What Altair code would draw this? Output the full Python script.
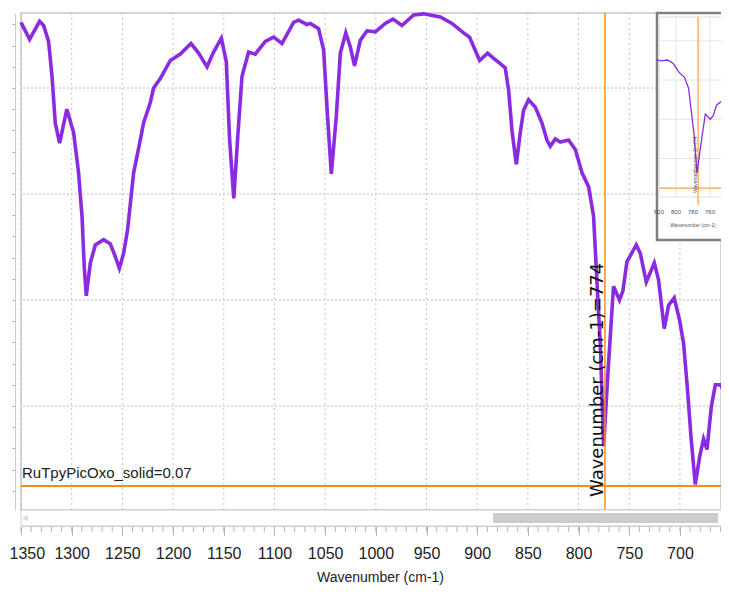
import altair as alt
import pandas as pd

# ---------------- data ----------------
wavenumber = [1350, 1341.5, 1331.7, 1327.7, 1322.8, 1319.4, 1316.2, 1311.9, 1304.8, 1298.1,
              1293.2, 1289.8, 1287.6, 1285.6, 1281.6, 1276.7, 1268.5, 1261.9, 1257, 1253,
              1248.8, 1244.9, 1238.9, 1232.3, 1229.1, 1222.5, 1219.2, 1212.6, 1202.7, 1192.8,
              1182.3, 1174.8, 1166.5, 1160, 1152.4, 1147.5, 1144.2, 1140.1, 1136.4, 1132,
              1125.5, 1118.9, 1109, 1100.8, 1092.6, 1081.1, 1076.2, 1067.9, 1064.6, 1056.5,
              1051.5, 1047.6, 1043.9, 1039, 1035, 1029.6, 1025.2, 1021, 1015.3, 1008.7,
              1000.5, 990.7, 983.1, 974.2, 962.7, 952.9, 936.4, 924.9, 913.4, 907.5,
              897.6, 889.7, 883.8, 877.2, 872.3, 869, 865.7, 861.4, 857.5, 854.2,
              849.3, 842.7, 836.1, 831.2, 827.9, 823, 818, 809.9, 803.2, 796.6,
              790.1, 785.2, 781.8, 778.6, 775.3, 770.4, 765.5, 759.6, 756.2, 752.3,
              743.1, 739.1, 733.2, 725.3, 721.1, 715.5, 711.2, 705.6, 700.4, 696.4,
              692.5, 689.1, 684.9, 680.6, 676.7, 673.3, 669.1, 665.1, 660.2, 657, 651.4]
signal = [0.512, 0.496, 0.513, 0.509, 0.494, 0.461, 0.417, 0.398, 0.430, 0.408,
          0.370, 0.329, 0.281, 0.254, 0.285, 0.302, 0.307, 0.303, 0.291, 0.280,
          0.294, 0.316, 0.370, 0.401, 0.417, 0.436, 0.450, 0.459, 0.476, 0.482,
          0.492, 0.483, 0.470, 0.484, 0.497, 0.475, 0.401, 0.346, 0.401, 0.461,
          0.484, 0.482, 0.494, 0.498, 0.492, 0.512, 0.514, 0.510, 0.511, 0.506,
          0.486, 0.423, 0.369, 0.423, 0.483, 0.502, 0.489, 0.471, 0.495, 0.504,
          0.503, 0.511, 0.515, 0.509, 0.519, 0.520, 0.517, 0.511, 0.502, 0.498,
          0.476, 0.483, 0.478, 0.473, 0.469, 0.448, 0.410, 0.378, 0.408, 0.429,
          0.439, 0.432, 0.417, 0.401, 0.395, 0.402, 0.399, 0.401, 0.392, 0.370,
          0.357, 0.329, 0.266, 0.209, 0.112, 0.191, 0.263, 0.250, 0.259, 0.286,
          0.302, 0.294, 0.267, 0.285, 0.269, 0.223, 0.245, 0.252, 0.231, 0.209,
          0.165, 0.121, 0.076, 0.102, 0.119, 0.109, 0.149, 0.170, 0.170, 0.165, 0.171]

x_tick_labels = [1350, 1300, 1250, 1200, 1150, 1100, 1050, 1000, 950, 900, 850, 800, 750, 700]
x_minor_ticks = list(range(1350, 655, -10))
y_ticks = [0.05, 0.07, 0.09, 0.11, 0.13, 0.15, 0.17, 0.19, 0.21, 0.23, 0.25, 0.27,
           0.29, 0.31, 0.33, 0.35, 0.37, 0.39, 0.41, 0.43, 0.45, 0.47, 0.49, 0.51]
y_grid = [0.15, 0.25, 0.35, 0.45]
cursor_wn = [774]
cursor_value = [0.0745]
series_label = "RuTpyPicOxo_solid=0.07"
cursor_label = "Wavenumber (cm-1)=774"
inset_tick_labels = [820, 800, 780, 760]
inset_grid_x = [800, 760]

# ---------------- styling ----------------
PURPLE = "#8a2be2"
ORANGE = "#ff8a1c"
NARROW = "Liberation Sans Narrow, Arial Narrow, Liberation Sans, Arial, sans-serif"
W, H = 700, 497

spec = pd.DataFrame({"wn": wavenumber, "v": signal})
one = pd.DataFrame({"k": [0]})
gridy = pd.DataFrame({"g": y_grid})
gridx = pd.DataFrame({"gx": x_tick_labels})
minor = pd.DataFrame({"m": x_minor_ticks})
cursor = pd.DataFrame({"cx": cursor_wn, "cy": cursor_value})


def xsc():
    return alt.Scale(domain=[659.5, 1350], reverse=True, nice=False, zero=False)


def ysc():
    return alt.Scale(domain=[0.0519, 0.5208], nice=False, zero=False)


def ixs():
    return alt.Scale(domain=[740, 820], range=[706, 638], nice=False, zero=False)


def iys():
    return alt.Scale(domain=[0.0519, 0.5208], range=[184, 0], nice=False, zero=False)


xgrid = alt.Chart(gridx).mark_rule(color="#c4c4c4", strokeDash=[2, 3], strokeWidth=1).encode(
    x=alt.X("gx:Q", scale=xsc(), axis=None))
ygrid = alt.Chart(gridy).mark_rule(color="#bdbdbd", strokeDash=[2, 2], strokeWidth=1).encode(
    y=alt.Y("g:Q", scale=ysc(), axis=None))

line = alt.Chart(spec).mark_line(color=PURPLE, strokeWidth=3.6).encode(
    x=alt.X("wn:Q", scale=xsc(), axis=alt.Axis(
        values=x_tick_labels, format="d", tickSize=9, offset=16,
        labelFont=NARROW, labelFontSize=16, labelColor="#222222", labelPadding=10,
        labelFlush=True, labelFlushOffset=12, labelOverlap=False,
        title="Wavenumber (cm-1)", titleFont=NARROW, titleFontSize=14,
        titleFontWeight="normal", titleColor="#222222", titlePadding=9, titleX=359,
        grid=False, domainColor="#cccccc", tickColor="#b0b0b0")),
    y=alt.Y("v:Q", scale=ysc(), axis=alt.Axis(
        values=y_ticks, labels=False, tickSize=3, offset=6, title=None, grid=False,
        domainColor="#cccccc", tickColor="#aaaaaa")),
)

minor_ticks = alt.Chart(minor).mark_rule(color="#b5b5b5").encode(
    x=alt.X("m:Q", scale=xsc(), axis=None), y=alt.value(H + 17), y2=alt.value(H + 22))

scroll_frame = alt.Chart(one).mark_rect(fill="white", stroke="#cfcfcf", strokeWidth=1).encode(
    x=alt.value(0), x2=alt.value(W + 4), y=alt.value(H), y2=alt.value(H + 16))
scroll_thumb = alt.Chart(one).mark_rect(fill="#c9cbcd").encode(
    x=alt.value(472), x2=alt.value(697), y=alt.value(H + 3), y2=alt.value(H + 13))
arrow_l = alt.Chart(one).mark_point(shape="triangle-left", filled=True, color="#d6d6d6",
                                    size=40, opacity=1).encode(
    x=alt.value(4), y=alt.value(H + 8))

hcur = alt.Chart(cursor).mark_rule(color=ORANGE, strokeWidth=2).encode(
    y=alt.Y("cy:Q", scale=ysc(), axis=None))
vcur = alt.Chart(cursor).mark_rule(color=ORANGE, strokeWidth=1.5).encode(
    x=alt.X("cx:Q", scale=xsc(), axis=None))

label_series = alt.Chart(one).mark_text(
    text=series_label, font=NARROW, fontSize=15, color="#222222", align="left",
    baseline="alphabetic"
).encode(x=alt.value(1), y=alt.value(465))

label_cursor = alt.Chart(one).mark_text(
    text=cursor_label, font="DejaVu Sans", fontSize=18, color="#111111", align="left",
    baseline="alphabetic", angle=270
).encode(x=alt.value(582), y=alt.value(484))

# ---------------- inset overview ----------------
inset_box = alt.Chart(one).mark_rect(fill="white", stroke="#7f7f7f", strokeWidth=2.5).encode(
    x=alt.value(636), x2=alt.value(W + 6), y=alt.value(0), y2=alt.value(227))
inset_frame = alt.Chart(one).mark_rect(fill="white", stroke="#dddddd", strokeWidth=1).encode(
    x=alt.value(638), x2=alt.value(W + 6), y=alt.value(4), y2=alt.value(184))
inset_hgrid = alt.Chart(gridy).mark_rule(color="#e4e4e4", strokeWidth=1).encode(
    y=alt.Y("g:Q", scale=iys(), axis=None), x=alt.value(638), x2=alt.value(W + 6))
inset_vgrid = alt.Chart(pd.DataFrame({"gx": inset_grid_x})).mark_rule(
    color="#e4e4e4", strokeWidth=1).encode(
    x=alt.X("gx:Q", scale=ixs(), axis=None), y=alt.value(4), y2=alt.value(184))
inset_line = alt.Chart(spec).transform_filter(
    "datum.wn >= 735 && datum.wn <= 824").mark_line(color=PURPLE, strokeWidth=1.3).encode(
    x=alt.X("wn:Q", scale=ixs(), axis=None), y=alt.Y("v:Q", scale=iys(), axis=None))
inset_hcur = alt.Chart(cursor).mark_rule(color=ORANGE, strokeWidth=1).encode(
    y=alt.Y("cy:Q", scale=iys(), axis=None), x=alt.value(638), x2=alt.value(W + 6))
inset_vcur = alt.Chart(cursor).mark_rule(color=ORANGE, strokeWidth=1).encode(
    x=alt.X("cx:Q", scale=ixs(), axis=None), y=alt.value(4), y2=alt.value(192))
inset_ticks = alt.Chart(pd.DataFrame({"t": inset_tick_labels})).mark_text(
    fontSize=6, color="#555555", baseline="middle").encode(
    x=alt.X("t:Q", scale=ixs(), axis=None), y=alt.value(199),
    text=alt.Text("t:Q", format="d"))
inset_title = alt.Chart(one).mark_text(
    text="Wavenumber (cm-1)", fontSize=5, color="#555555").encode(
    x=alt.value(672), y=alt.value(212))
inset_cursor_label = alt.Chart(one).mark_text(
    text=cursor_label, fontSize=5, color="#555555", angle=270, align="left",
    baseline="alphabetic"
).encode(x=alt.value(676), y=alt.value(180))

chart = alt.layer(
    xgrid, ygrid, line, hcur, vcur, label_series, label_cursor,
    scroll_frame, scroll_thumb, arrow_l, minor_ticks,
    inset_box, inset_frame, inset_hgrid, inset_vgrid, inset_hcur, inset_vcur,
    inset_line, inset_ticks, inset_title, inset_cursor_label,
).resolve_scale(
    x="independent", y="independent"
).properties(
    width=W, height=H, autosize="none",
    padding={"left": 13, "top": 5, "right": 0, "bottom": 80},
    background="white",
).configure_view(stroke="#c8c8c8", strokeWidth=1.5)

chart.save("out.html", embed_options={"renderer": "svg", "actions": False})
